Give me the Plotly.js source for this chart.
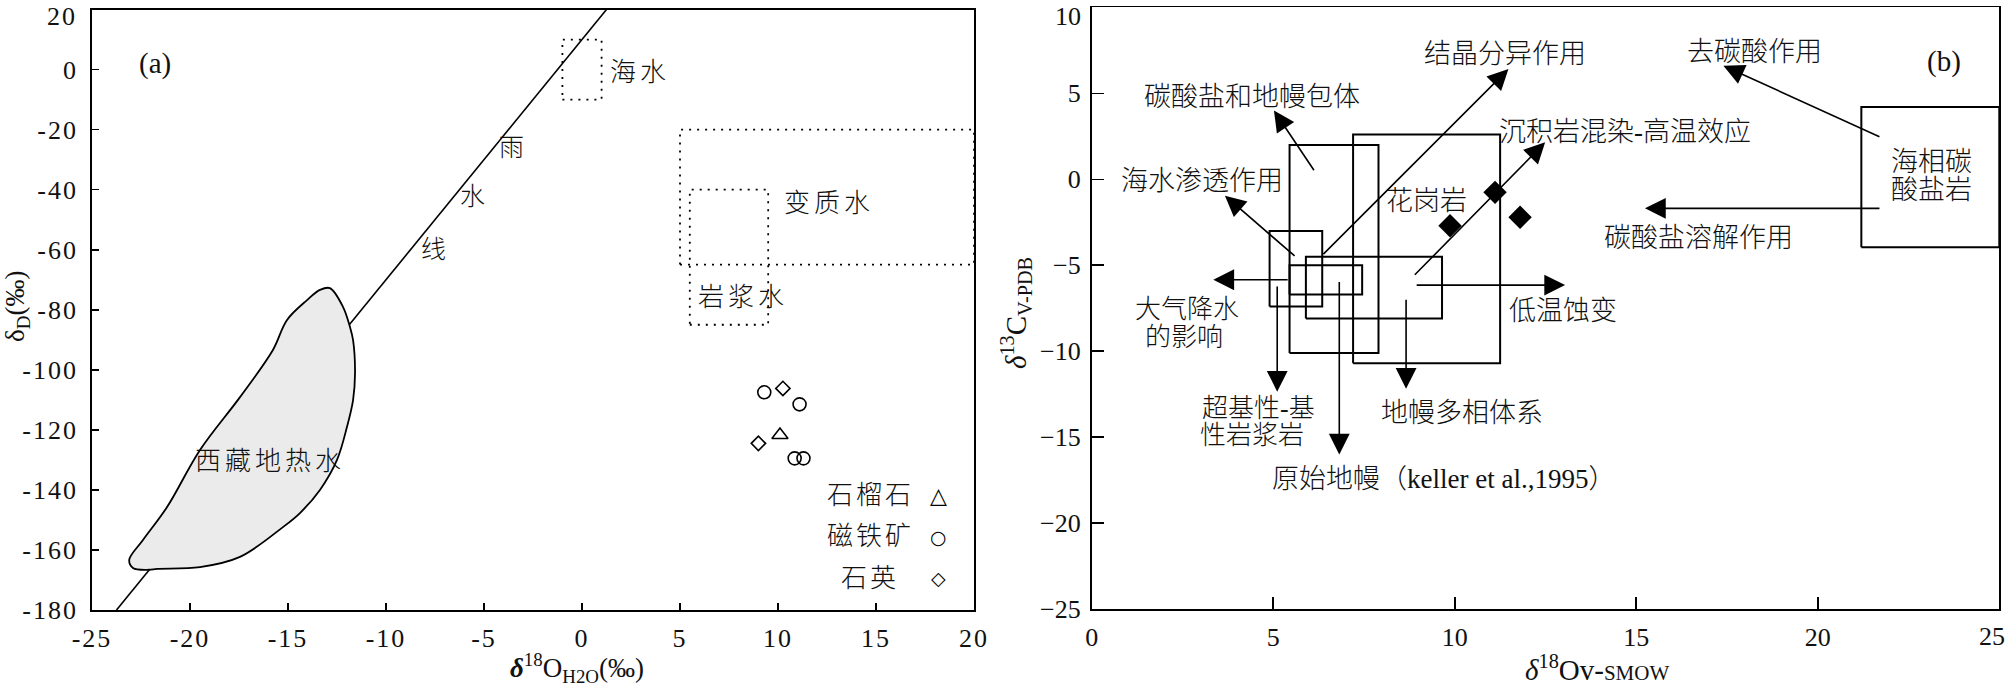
<!DOCTYPE html>
<html><head><meta charset="utf-8">
<script src="https://cdn.plot.ly/plotly-3.0.1.min.js"></script>
<style>html,body{margin:0;padding:0;background:#fff;}#chart{width:2008px;height:693px;}</style>
</head><body><div id="chart"></div>
<script>
// ---------------- Panel (a) data ----------------
const leftXTicks = [-25, -20, -15, -10, -5, 0, 5, 10, 15, 20];
const leftYTicks = [-180, -160, -140, -120, -100, -80, -60, -40, -20, 0, 20];
const mwlX = [-23.75, 1.25];          // meteoric water line
const mwlY = [-180, 20];
const tibetX = [-23.10, -22.91, -22.09, -21.68, -19.49, -17.45, -15.26, -14.39, -13.37, -12.50, -11.99, -11.68, -11.58, -11.68, -11.84, -12.19, -12.86, -13.37, -14.03, -15.05, -15.77, -17.45, -19.49, -21.17, -22.40, -23.10];
const tibetY = [-163.3, -166.0, -166.6, -166.3, -165.7, -162.3, -152.4, -147.7, -140.0, -130.0, -119.0, -110.1, -101.1, -90.1, -85.7, -79.1, -72.8, -73.4, -76.8, -83.4, -93.4, -109.1, -126.7, -145.7, -156.7, -163.3];
const seaBoxX = [-1, 1], seaBoxY = [-10, 10];
const metaBoxX = [5, 20], metaBoxY = [-65, -20];
const magmaBoxX = [5.5, 9.5], magmaBoxY = [-85, -40];
const garnetX = [10.1], garnetY = [-121.7];
const magnetiteX = [9.3, 11.1, 10.85, 11.3], magnetiteY = [-107.5, -111.5, -129.5, -129.5];
const quartzX = [10.25, 9.0], quartzY = [-106.2, -124.5];
const legendNames = ['石榴石', '磁铁矿', '石英'];
const legendGlyphs = ['△', '○', '◇'];

// ---------------- Panel (b) data ----------------
const rightXTicks = [0, 5, 10, 15, 20, 25];
const rightYTicks = [-25, -20, -15, -10, -5, 0, 5, 10];
// boxes: [x0, x1, y0, y1]
const boxSeaInfil = [4.9, 6.35, -7.4, -3.0];
const boxCarbMantle = [5.45, 7.9, -10.1, 2.0];
const boxGranite = [7.2, 11.25, -10.7, 2.6];
const boxPrimMantle = [5.45, 7.45, -6.7, -5.0];
const boxMantleMulti = [5.9, 9.65, -8.1, -4.5];
const boxMarineCarb = [21.2, 25, -3.95, 4.2];
// arrows: tail x, tail y, head x, head y
const arrowTailX = [5.63, 6.15, 6.34, 8.86, 5.44, 8.91, 5.11, 6.82, 8.66, 21.74, 21.74];
const arrowTailY = [-4.53, 0.44, -4.44, -5.64, -5.84, -6.15, -6.15, -5.89, -6.92, 2.44, -1.69];
const arrowHeadX = [3.67, 5.02, 11.48, 12.49, 3.35, 13.04, 5.11, 6.82, 8.66, 17.40, 15.24];
const arrowHeadY = [-0.95, 4.0, 6.41, 2.15, -5.84, -6.15, -12.35, -16.0, -12.18, 6.60, -1.69];
const sampleX = [9.87, 11.11, 11.80];
const sampleY = [-2.70, -0.76, -2.21];

// ---------------- helpers ----------------
const serif = 'Liberation Serif, Noto Sans CJK SC, serif';
const tickFont = {family: 'Liberation Serif, serif', size: 26, color: '#111'};
function spaced(t, px) { return '<span style="letter-spacing:' + px + 'px">' + t + '</span>'; }
function rectXY(bx, by) { return {x: [bx[0], bx[1], bx[1], bx[0], bx[0]], y: [by[0], by[0], by[1], by[1], by[0]]}; }
function box(b, xa, ya, dash, w) {
  const r = rectXY([b[0], b[1]], [b[2], b[3]]);
  return {x: r.x, y: r.y, xaxis: xa, yaxis: ya, mode: 'lines',
          line: {color: '#000', width: w || 2, dash: dash || 'solid'}};
}
const dotted = '2px,6px';

const traces = [
  {x: mwlX, y: mwlY, mode: 'lines', line: {color: '#000', width: 1.6}, xaxis: 'x', yaxis: 'y'},
  {x: tibetX, y: tibetY, mode: 'lines', fill: 'toself', fillcolor: '#ebebeb',
   line: {color: '#000', width: 1.8, shape: 'spline', smoothing: 1}, xaxis: 'x', yaxis: 'y'},
  box([seaBoxX[0], seaBoxX[1], seaBoxY[0], seaBoxY[1]], 'x', 'y', dotted, 1.8),
  box([metaBoxX[0], metaBoxX[1], metaBoxY[0], metaBoxY[1]], 'x', 'y', dotted, 1.8),
  box([magmaBoxX[0], magmaBoxX[1], magmaBoxY[0], magmaBoxY[1]], 'x', 'y', dotted, 1.8),
  {x: garnetX, y: garnetY, mode: 'markers', xaxis: 'x', yaxis: 'y',
   marker: {symbol: 'triangle-up-open', size: 14, color: '#000', line: {width: 1.6, color: '#000'}}},
  {x: magnetiteX, y: magnetiteY, mode: 'markers', xaxis: 'x', yaxis: 'y',
   marker: {symbol: 'circle-open', size: 13, color: '#000', line: {width: 1.6, color: '#000'}}},
  {x: quartzX, y: quartzY, mode: 'markers', xaxis: 'x', yaxis: 'y',
   marker: {symbol: 'diamond-open', size: 11, color: '#000', line: {width: 1.6, color: '#000'}}},
  box(boxSeaInfil, 'x2', 'y2'),
  box(boxCarbMantle, 'x2', 'y2'),
  box(boxGranite, 'x2', 'y2'),
  box(boxPrimMantle, 'x2', 'y2'),
  box(boxMantleMulti, 'x2', 'y2'),
  box(boxMarineCarb, 'x2', 'y2'),
  {x: sampleX, y: sampleY, mode: 'markers', xaxis: 'x2', yaxis: 'y2',
   marker: {symbol: 'diamond', size: 18, color: '#000'}}
];

const anns = [];
function lab(text, x, y, xr, yr, size, xanchor, extra) {
  anns.push(Object.assign({text: text, x: x, y: y, xref: xr, yref: yr, showarrow: false,
    xanchor: xanchor || 'center', yanchor: 'middle',
    font: {family: serif, size: size, color: '#111', weight: 300}}, extra || {}));
}
// arrows
for (let i = 0; i < arrowTailX.length; i++) {
  anns.push({x: arrowHeadX[i], y: arrowHeadY[i], ax: arrowTailX[i], ay: arrowTailY[i],
    xref: 'x2', yref: 'y2', axref: 'x2', ayref: 'y2', text: '', showarrow: true,
    arrowhead: 2, arrowsize: 2.6, arrowwidth: 1.6, arrowcolor: '#000', standoff: 0, startstandoff: 0});
}
// edge tick labels (nudged inside the figure, as in the reference)
const leftYTop = leftYTicks[leftYTicks.length - 1];
const rightYTop = rightYTicks[rightYTicks.length - 1];
const rightXEnd = rightXTicks[rightXTicks.length - 1];
anns.push({text: spaced(String(leftYTop), 2), x: 79 / 2008, xref: 'paper', xanchor: 'right', y: leftYTop, yref: 'y',
  yanchor: 'top', yshift: 9, showarrow: false, font: tickFont});
anns.push({text: String(rightYTop), x: 1083 / 2008, xref: 'paper', xanchor: 'right', y: rightYTop, yref: 'y2',
  yanchor: 'top', yshift: 7, showarrow: false, font: tickFont});
anns.push({text: String(rightXEnd), x: rightXEnd, xref: 'x2', xanchor: 'right', xshift: 8,
  y: 1 - 636 / 693, yref: 'paper', yanchor: 'middle', showarrow: false, font: tickFont});

// panel (a) labels
lab('(a)', -21.8, 2, 'x', 'y', 29);
lab(spaced('海水', 4), 1.35, -1, 'x', 'y', 26, 'left');
lab('雨', -3.6, -26, 'x', 'y', 25);
lab('水', -5.6, -42.4, 'x', 'y', 25);
lab('线', -7.6, -60, 'x', 'y', 25);
lab(spaced('变质水', 4), 10.2, -44.5, 'x', 'y', 26, 'left');
lab(spaced('岩浆水', 4), 5.8, -75.8, 'x', 'y', 26, 'left');
lab(spaced('西藏地热水', 4), -19.85, -130.7, 'x', 'y', 26, 'left');
const legendYs = [-141.7, -155.6, -169.4];
for (let i = 0; i < legendNames.length; i++) {
  lab(spaced(legendNames[i], 3), 14.7, legendYs[i], 'x', 'y', 26);
  anns.push({text: legendGlyphs[i], x: 18.2, y: legendYs[i], xref: 'x', yref: 'y', showarrow: false,
    font: {family: 'DejaVu Sans', size: i === 0 ? 22 : 19, color: '#000'}});
}
// panel (b) labels
lab('结晶分异作用', 11.39, 7.28, 'x2', 'y2', 27);
lab('去碳酸作用', 18.25, 7.40, 'x2', 'y2', 27);
lab('(b)', 23.48, 6.82, 'x2', 'y2', 29);
lab('碳酸盐和地幔包体', 4.41, 4.77, 'x2', 'y2', 27);
lab('沉积岩混染-高温效应', 11.16, 2.75, 'x2', 'y2', 27, 'left');
lab('海水渗透作用', 3.03, -0.08, 'x2', 'y2', 27);
lab('花岗岩', 9.21, -1.24, 'x2', 'y2', 27);
lab('海相碳', 23.12, 1.02, 'x2', 'y2', 27);
lab('酸盐岩', 23.12, -0.60, 'x2', 'y2', 27);
lab('碳酸盐溶解作用', 16.71, -3.43, 'x2', 'y2', 27);
lab('大气降水', 2.62, -7.55, 'x2', 'y2', 26);
lab('的影响', 2.55, -9.17, 'x2', 'y2', 26);
lab('低温蚀变', 12.99, -7.64, 'x2', 'y2', 27);
lab('超基性-基', 2.98, -13.30, 'x2', 'y2', 26, 'left');
lab('性岩浆岩', 2.94, -14.92, 'x2', 'y2', 26, 'left');
lab('地幔多相体系', 10.2, -13.59, 'x2', 'y2', 27);
lab('原始地幔（keller et al.,1995）', 4.91, -17.42, 'x2', 'y2', 27, 'left');
// axis titles
lab('δ<sub>D</sub>(‰)', 17 / 2008, 1 - 307 / 693, 'paper', 'paper', 27, 'center', {textangle: -90});
lab('<b><i>δ</i></b><sup>18</sup>O<sub>H2O</sub>(‰)', 577 / 2008, 1 - 668 / 693, 'paper', 'paper', 27);
lab('<i>δ</i><sup>13</sup>C<sub>V-PDB</sub>', 1016 / 2008, 1 - 313 / 693, 'paper', 'paper', 29, 'center', {textangle: -90});
lab('<i>δ</i><sup>18</sup>Ov-<span style="font-size:21px">SMOW</span>', 1597 / 2008, 1 - 668 / 693, 'paper', 'paper', 29);

function axisBase(extra) {
  return Object.assign({ticks: 'inside', tickcolor: '#000', tickwidth: 1.6, showline: true,
    linecolor: '#000', linewidth: 1.8, mirror: true, showgrid: false, zeroline: false,
    fixedrange: true, ticklabeloverflow: 'allow', tickfont: tickFont}, extra);
}
function tickText(vals, hideLast, minus, sp) {
  return vals.map((v, i) => {
    if (hideLast && i === vals.length - 1) return '';
    const s = minus ? String(v).replace('-', '\u2212') : String(v);
    return sp ? spaced(s, sp) : s;
  });
}
const layout = {
  width: 2008, height: 693, margin: {l: 0, r: 0, t: 0, b: 0}, showlegend: false,
  paper_bgcolor: '#fff', plot_bgcolor: '#fff',
  xaxis: axisBase({domain: [92 / 2008, 974 / 2008], range: [-25, 20], anchor: 'y',
    tickvals: leftXTicks, ticktext: tickText(leftXTicks, false, false, 2), ticklen: 7, ticklabelstandoff: 4}),
  yaxis: axisBase({domain: [(693 - 610) / 693, (693 - 9.5) / 693], range: [-180, 20], anchor: 'x',
    tickvals: leftYTicks, ticktext: tickText(leftYTicks, true, false, 2), ticklen: 7, ticklabelstandoff: 7}),
  xaxis2: axisBase({domain: [1091.7 / 2008, 1999.3 / 2008], range: [0, 25], anchor: 'y2',
    tickvals: rightXTicks, ticktext: tickText(rightXTicks, true, false, 0), ticklen: 12, ticklabelstandoff: 4}),
  yaxis2: axisBase({domain: [(693 - 609.3) / 693, (693 - 7.3) / 693], range: [-25, 10], anchor: 'x2',
    tickvals: rightYTicks, ticktext: tickText(rightYTicks, true, true, 0), ticklen: 12, ticklabelstandoff: 4}),
  annotations: anns
};
traces.forEach(t => { t.hoverinfo = 'skip'; t.showlegend = false; });
Plotly.newPlot('chart', traces, layout, {staticPlot: true});
</script>
</body></html>
